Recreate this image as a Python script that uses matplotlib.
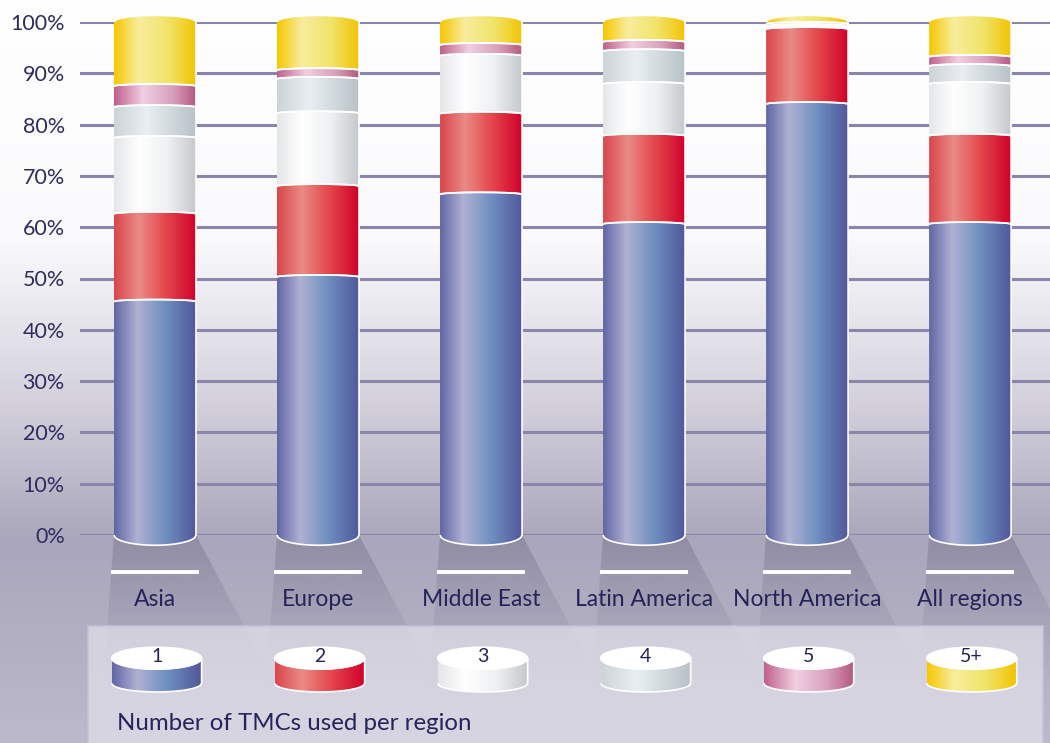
import numpy as np
import matplotlib.pyplot as plt
from matplotlib.path import Path
from matplotlib.patches import PathPatch, Rectangle, Ellipse
from matplotlib.colors import LinearSegmentedColormap, to_rgb

# data (share of companies, %)
regions = ["Asia", "Europe", "Middle East", "Latin America", "North America", "All regions"]
tmc_1 = [45.5, 50.3, 66.4, 60.6, 84.0, 60.6]
tmc_2 = [17.1, 17.7, 15.7, 17.2, 14.6, 17.2]
tmc_3 = [14.8, 14.2, 11.3, 10.1, 0.3, 10.1]
tmc_4 = [6.0, 6.7, 0.0, 6.4, 0.3, 3.5]
tmc_5 = [4.1, 1.7, 2.1, 1.8, 0.4, 1.8]
tmc_5plus = [12.5, 9.4, 4.5, 3.9, 0.4, 6.8]
series = [tmc_1, tmc_2, tmc_3, tmc_4, tmc_5, tmc_5plus]
legend_labels = ["1", "2", "3", "4", "5", "5+"]

# horizontal shading for each cylinder colour
shades = [
    [(0, "#6166a5"), (0.28, "#b0b1d3"), (0.62, "#6d8fc0"), (1, "#51569a")],
    [(0, "#d9464c"), (0.3, "#e98b85"), (0.62, "#e4484c"), (1, "#cf002a")],
    [(0, "#e4e6e8"), (0.3, "#ffffff"), (0.65, "#eef0f1"), (1, "#c4c8cb")],
    [(0, "#cdd4d8"), (0.4, "#e9eff3"), (1, "#b7c1c6")],
    [(0, "#c0608a"), (0.35, "#f1cfe1"), (0.7, "#d9a1bd"), (1, "#b3577f")],
    [(0, "#f6c700"), (0.3, "#f8ed9e"), (0.65, "#f1e46a"), (1, "#f2c300")],
]
cmaps = [LinearSegmentedColormap.from_list("c%d" % i, s) for i, s in enumerate(shades)]
navy = "#24245a"

plt.rcParams["font.family"] = ["Lato", "DejaVu Sans"]
fig = plt.figure(figsize=(10.5, 7.43), dpi=100)

# background gradient
bg = fig.add_axes([0, 0, 1, 1], zorder=-1)
bg_cmap = LinearSegmentedColormap.from_list("bg", [(0, "#ffffff"), (0.32, "#fafafc"),
                                                   (0.55, "#d2cfdb"), (0.73, "#aaa6bb"),
                                                   (1, "#bdb9cc")])
bg.imshow(np.linspace(0, 1, 256)[:, None], cmap=bg_cmap, aspect="auto", extent=(0, 1, 0, 1))
bg.axis("off")

ax = fig.add_axes([80 / 1050, 208 / 743, 970 / 1050, 513 / 743])
ax.set_facecolor("none")
x = np.arange(len(regions))
w = 0.503


def arc_path(c, y0, y1, b0, b1, hw):
    xs = np.linspace(c - hw, c + hw, 80)
    t = np.sqrt(np.clip(1 - ((xs - c) / hw) ** 2, 0, 1))
    bot = y0 + b0 * t
    top = y1 + b1 * t
    verts = np.concatenate([np.column_stack([xs, bot]), np.column_stack([xs[::-1], top[::-1]])])
    return Path(verts, closed=False), min(bot.min(), top.min()), max(bot.max(), top.max())


def clip_image(im, patch):
    # clip to the shape, but allow drawing outside the axes box
    im.set_clip_path(patch)
    im.set_clip_box(fig.bbox)


def shaded(path, cmap, x0, x1, y0, y1, z, edge="white", lw=1.2):
    patch = PathPatch(path, facecolor="none", edgecolor=edge, lw=lw, zorder=z + 0.5, clip_on=False)
    ax.add_patch(patch)
    im = ax.imshow(np.linspace(0, 1, 256)[None, :], cmap=cmap, aspect="auto",
                   extent=(x0, x1, y0, y1), interpolation="bicubic", zorder=z)
    clip_image(im, patch)


# grid lines
for g in range(0, 101, 10):
    ax.axhline(g, color="#8a85ab", lw=2.2, zorder=1)

# shadows under the bars
for c in x:
    sh = Path([(c - w / 2, 0), (c + w / 2, 0), (c + 0.75, -30), (c - 0.32, -30), (c - w / 2, 0)])
    sp = PathPatch(sh, facecolor="none", edgecolor="none", clip_on=False)
    ax.add_patch(sp)
    rgba = np.zeros((256, 1, 4))
    rgba[..., :3] = to_rgb("#5c5870")
    rgba[:, 0, 3] = np.linspace(0.42, 0.0, 256) ** 1.3
    im = ax.imshow(rgba, aspect="auto", extent=(c - 0.4, c + 0.8, -30, 0), zorder=1.5)
    clip_image(im, sp)

# stacked cylinders
for i, c in enumerate(x):
    base = 0.0
    for k, vals in enumerate(series):
        v = vals[i]
        if v <= 0:
            continue
        b0 = -2.0 if base == 0 else 0.4
        b1 = 1.3 if k == len(series) - 1 else 0.4
        p, lo, hi = arc_path(c, base, base + v, b0, b1, w / 2)
        shaded(p, cmaps[k], c - w / 2, c + w / 2, lo, hi, 3 + k * 0.01)
        base += v

# legend box
ax.add_patch(Rectangle((-0.411, -48), 5.86, 30.3, facecolor="#e2e0ea", alpha=0.72,
                       edgecolor="#c6c3d5", lw=1.5, zorder=2, clip_on=False))
for k, lab in enumerate(legend_labels):
    c = x[k] + 0.01
    hw = 0.276
    yc, eh = -24.0, 2.15
    p, lo, hi = arc_path(c, yc - 4.9, yc, -1.7, -eh, hw)
    shaded(p, cmaps[k], c - hw, c + hw, lo, hi, 5)
    ax.add_patch(Ellipse((c, yc), 2 * hw, 2 * eh, facecolor="white", edgecolor="white",
                         lw=1, zorder=6, clip_on=False))
    ax.text(c, yc + 0.3, lab, ha="center", va="center", fontsize=14, color=navy,
            zorder=7, clip_on=False)
ax.text(-0.235, -36.7, "Number of TMCs used per region", ha="left", va="center",
        fontsize=17.3, color=navy, clip_on=False)

# white marker lines above region names
for c in x:
    ax.plot([c - 0.27, c + 0.27], [-7.2, -7.2], color="white", lw=2.8,
            solid_capstyle="butt", clip_on=False, zorder=2)

ax.set_xlim(-0.46, 5.49)
ax.set_ylim(0, 100)
ax.set_yticks(range(0, 101, 10))
ax.set_yticklabels(["%d%%" % v for v in range(0, 101, 10)], fontsize=15.5, color="#2e2b60")
ax.set_xticks(x)
ax.set_xticklabels(regions, fontsize=16.5, color=navy)
ax.tick_params(axis="y", length=0, pad=11)
ax.tick_params(axis="x", length=0, pad=39)
for s in ax.spines.values():
    s.set_visible(False)

plt.savefig("out.png", dpi=100)
